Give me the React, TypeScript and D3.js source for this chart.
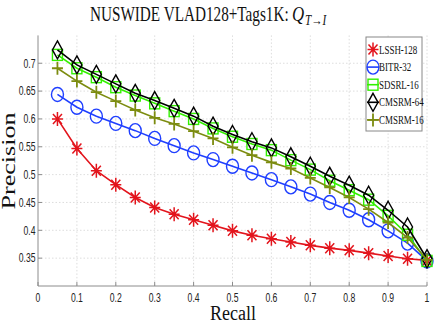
import React from "react";
import * as d3 from "d3";

// recall points
const recall = [0.05, 0.1, 0.15, 0.2, 0.25, 0.3, 0.35, 0.4, 0.45, 0.5, 0.55, 0.6, 0.65, 0.7, 0.75, 0.8, 0.85, 0.9, 0.95, 1.0];

// precision values
const lssh128 = [0.600, 0.547, 0.507, 0.482, 0.459, 0.441, 0.429, 0.419, 0.409, 0.399, 0.391, 0.385, 0.379, 0.373, 0.368, 0.364, 0.359, 0.354, 0.349, 0.346];
const bitr32 = [0.644, 0.621, 0.605, 0.592, 0.579, 0.565, 0.552, 0.539, 0.527, 0.515, 0.503, 0.491, 0.478, 0.465, 0.450, 0.436, 0.419, 0.399, 0.377, 0.345];
const sdsrl16 = [0.715, 0.691, 0.675, 0.657, 0.642, 0.628, 0.614, 0.600, 0.583, 0.568, 0.555, 0.544, 0.526, 0.509, 0.489, 0.472, 0.455, 0.426, 0.392, 0.345];
const cmsrm64 = [0.724, 0.697, 0.680, 0.663, 0.646, 0.633, 0.619, 0.605, 0.587, 0.572, 0.559, 0.548, 0.532, 0.515, 0.497, 0.481, 0.463, 0.436, 0.406, 0.349];
const cmsrm16 = [0.691, 0.668, 0.648, 0.632, 0.616, 0.602, 0.591, 0.578, 0.565, 0.549, 0.535, 0.522, 0.511, 0.494, 0.477, 0.459, 0.438, 0.414, 0.387, 0.347];

const seriesNames = ["LSSH-128", "BITR-32", "SDSRL-16", "CMSRM-64", "CMSRM-16"];
const xTicks = [0, 0.1, 0.2, 0.3, 0.4, 0.5, 0.6, 0.7, 0.8, 0.9, 1];
const yTicks = [0.35, 0.4, 0.45, 0.5, 0.55, 0.6, 0.65, 0.7];

const W = 436, H = 327;
const x = d3.scaleLinear().domain([0, 1]).range([38, 427]);
const y = d3.scaleLinear().domain([0.3, 0.75]).range([286, 35.4]);

const styles = [
  { color: "#e3141c", marker: "star" },
  { color: "#1f3fff", marker: "circle" },
  { color: "#33f000", marker: "square" },
  { color: "#000000", marker: "diamond" },
  { color: "#7c8c10", marker: "plus" },
];

const Marker = ({ type, cx, cy, color }) => {
  const sw = 1.4;
  if (type === "circle")
    return <ellipse cx={cx} cy={cy} rx={6} ry={7} fill="none" stroke={color} strokeWidth={sw} />;
  if (type === "square")
    return <rect x={cx - 5} y={cy - 5.5} width={10} height={11} fill="none" stroke={color} strokeWidth={sw} />;
  if (type === "diamond")
    return <path d={`M${cx},${cy - 9}L${cx + 5},${cy}L${cx},${cy + 9}L${cx - 5},${cy}Z`} fill="none" stroke={color} strokeWidth={sw} />;
  if (type === "plus")
    return <path d={`M${cx - 5.5},${cy}H${cx + 5.5}M${cx},${cy - 6.5}V${cy + 6.5}`} stroke={color} strokeWidth={1.8} />;
  // star
  return (
    <path
      d={`M${cx - 5.5},${cy}H${cx + 5.5}M${cx},${cy - 7}V${cy + 7}M${cx - 4.5},${cy - 5}L${cx + 4.5},${cy + 5}M${cx - 4.5},${cy + 5}L${cx + 4.5},${cy - 5}`}
      stroke={color}
      strokeWidth={1.5}
    />
  );
};

const SText = ({ tx, ty, sx = 0.74, children, ...rest }) => (
  <g transform={`translate(${tx},${ty}) scale(${sx},1)`}>
    <text x={0} y={0} {...rest}>{children}</text>
  </g>
);

export default function App() {
  const data = [lssh128, bitr32, sdsrl16, cmsrm64, cmsrm16];
  const line = d3.line<number>().x((d, i) => x(recall[i])).y(d => y(d));
  const serif = "'Liberation Serif', 'DejaVu Serif', serif";
  const sans = "'Liberation Sans', Arial, sans-serif";

  return (
    <svg width={W} height={H} style={{ position: "fixed", left: 0, top: 0, background: "#fff" }}>
      <rect width={W} height={H} fill="#fff" />
      {/* grid */}
      {xTicks.filter(t => t > 0).map(t => (
        <line key={"gx" + t} x1={x(t)} x2={x(t)} y1={y(0.75)} y2={y(0.3)} stroke="#d4d4d4" strokeWidth={0.8} strokeDasharray="1.5,2" />
      ))}
      {yTicks.map(t => (
        <line key={"gy" + t} x1={x(0)} x2={x(1)} y1={y(t)} y2={y(t)} stroke="#d4d4d4" strokeWidth={0.8} strokeDasharray="1.5,2" />
      ))}
      {/* axes */}
      <line x1={x(0)} x2={x(0)} y1={y(0.75)} y2={y(0.3)} stroke="#8c8c8c" strokeWidth={1} />
      <line x1={x(0)} x2={x(1)} y1={y(0.3)} y2={y(0.3)} stroke="#8c8c8c" strokeWidth={1} />
      {xTicks.map(t => (
        <line key={"tx" + t} x1={x(t)} x2={x(t)} y1={y(0.3)} y2={y(0.3) - 4} stroke="#8c8c8c" />
      ))}
      {yTicks.map(t => (
        <line key={"ty" + t} x1={x(0)} x2={x(0) + 4} y1={y(t)} y2={y(t)} stroke="#8c8c8c" />
      ))}
      {xTicks.map(t => (
        <SText key={"lx" + t} tx={x(t)} ty={302} sx={0.72} textAnchor="middle" fontFamily={sans} fontSize={12} fill="#222">
          {String(t)}
        </SText>
      ))}
      {yTicks.map(t => (
        <SText key={"ly" + t} tx={35.5} ty={y(t) + 4.3} sx={0.72} textAnchor="end" fontFamily={sans} fontSize={12} fill="#222">
          {String(t)}
        </SText>
      ))}
      {/* series */}
      {data.map((vals, si) => (
        <g key={"s" + si}>
          <path d={line(vals) || ""} fill="none" stroke={styles[si].color} strokeWidth={1.6} />
          {vals.map((v, i) => (
            <Marker key={i} type={styles[si].marker} cx={x(recall[i])} cy={y(v)} color={styles[si].color} />
          ))}
        </g>
      ))}
      {/* legend */}
      <rect x={366} y={37} width={56} height={94} fill="#fff" stroke="#888" strokeWidth={1} />
      {seriesNames.map((n, i) => {
        const cy = 49.5 + i * 17.6;
        return (
          <g key={"lg" + n}>
            {i > 0 && <line x1={367} x2={379} y1={cy} y2={cy} stroke={styles[i].color} strokeWidth={1.6} />}
            <Marker type={styles[i].marker} cx={373} cy={cy} color={styles[i].color} />
            <SText tx={379} ty={cy + 4} sx={0.745} fontFamily={serif} fontSize={12} fill="#111">
              {n}
            </SText>
          </g>
        );
      })}
      {/* title */}
      <SText tx={90} ty={21} sx={0.725} fontFamily={serif} fontSize={21} fill="#111">
        NUSWIDE VLAD128+Tags1K:
      </SText>
      <SText tx={292} ty={21} sx={0.8} fontFamily={serif} fontSize={21} fontStyle="italic" fill="#111">
        Q
      </SText>
      <SText tx={305} ty={25} sx={0.8} fontFamily={serif} fontSize={14} fontStyle="italic" fill="#111">
        T→I
      </SText>
      {/* axis labels */}
      <text x={233} y={319.5} textAnchor="middle" fontFamily={serif} fontSize={20} textLength={46} lengthAdjust="spacingAndGlyphs" fill="#111">
        Recall
      </text>
      <g transform="translate(15,161) rotate(-90) scale(1,0.85)">
        <text x={0} y={0} textAnchor="middle" fontFamily={serif} fontSize={22} textLength={97} lengthAdjust="spacingAndGlyphs" fill="#111">
          Precision
        </text>
      </g>
    </svg>
  );
}
